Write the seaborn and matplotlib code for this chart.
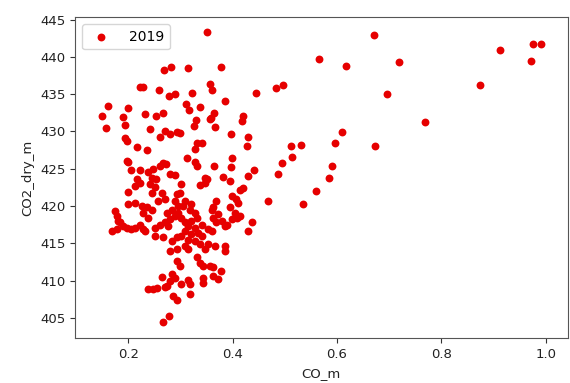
import matplotlib
matplotlib.use("Agg")
import matplotlib.pyplot as plt
import seaborn as sns
import pandas as pd

co_m = [
    0.351, 0.268, 0.281, 0.315, 0.377, 0.222, 0.228, 0.258, 0.278, 0.289,
    0.357, 0.360, 0.323, 0.385, 0.445, 0.161, 0.200, 0.149, 0.190, 0.194,
    0.233, 0.253, 0.267, 0.311, 0.317, 0.337, 0.329, 0.326, 0.364, 0.359,
    0.356, 0.419, 0.417, 0.157, 0.242, 0.261, 0.270, 0.280, 0.293, 0.299,
    0.366, 0.396, 0.430, 0.194, 0.197, 0.217, 0.236, 0.331, 0.341, 0.328,
    0.427, 0.312, 0.197, 0.200, 0.267, 0.273, 0.261, 0.328, 0.331, 0.365,
    0.399, 0.396, 0.430, 0.440, 0.206, 0.222, 0.238, 0.248, 0.280, 0.289,
    0.348, 0.382,
    0.670, 0.565, 0.618, 0.719, 0.483, 0.497, 0.695, 0.768, 0.610, 0.596,
    0.672, 0.512, 0.531, 0.514, 0.494, 0.591, 0.486, 0.585, 0.560, 0.420,
    0.414, 0.467, 0.534, 0.414, 0.438, 0.430, 0.913, 0.976, 0.990, 0.971,
    0.873,
    0.216, 0.222, 0.213, 0.200, 0.245, 0.254, 0.242, 0.251, 0.245, 0.264,
    0.270, 0.257, 0.293, 0.289, 0.296, 0.175, 0.178, 0.181, 0.184, 0.168,
    0.178, 0.190, 0.197, 0.206, 0.213, 0.200, 0.213, 0.226, 0.235, 0.245,
    0.229, 0.238, 0.222, 0.229, 0.232, 0.251, 0.261, 0.270, 0.277, 0.251,
    0.267, 0.283, 0.293, 0.274, 0.283, 0.289, 0.280,
    0.302, 0.337, 0.347, 0.350, 0.395, 0.299, 0.369, 0.363, 0.360, 0.398,
    0.407, 0.410, 0.395, 0.405, 0.408, 0.398, 0.389, 0.372, 0.379, 0.385,
    0.369, 0.363, 0.341, 0.353, 0.360,
    0.309, 0.321, 0.305, 0.318, 0.328, 0.331, 0.321, 0.309, 0.302, 0.296,
    0.315, 0.328, 0.334, 0.321, 0.309, 0.341, 0.328, 0.315, 0.302, 0.337,
    0.353, 0.366, 0.385, 0.347,
    0.280, 0.293, 0.293, 0.264, 0.283, 0.280, 0.274, 0.270, 0.238, 0.248,
    0.256, 0.286, 0.293, 0.267, 0.278,
    0.308, 0.315, 0.385, 0.331, 0.337, 0.344, 0.356, 0.363, 0.378, 0.289,
    0.302, 0.315, 0.318, 0.344, 0.344, 0.363, 0.372, 0.318, 0.299,
]

co2_dry_m = [
    443.3, 438.2, 438.7, 438.5, 438.6, 436.0, 436.0, 435.5, 434.8, 435.0,
    436.3, 435.5, 435.2, 434.1, 435.2, 433.4, 433.1, 432.1, 431.9, 430.9,
    432.3, 432.1, 432.5, 433.7, 432.9, 433.3, 431.5, 430.7, 432.5, 431.8,
    431.6, 432.1, 431.4, 430.4, 430.3, 429.3, 430.1, 429.7, 429.9, 429.8,
    430.6, 429.7, 429.3, 429.1, 428.7, 427.9, 427.5, 428.5, 428.5, 427.6,
    428.0, 426.4, 426.0, 425.9, 425.8, 425.6, 425.3, 425.9, 425.3, 425.3,
    426.4, 425.2, 424.0, 424.8, 424.8, 424.8, 424.5, 424.9, 424.3, 424.2,
    423.7, 423.9,
    442.9, 439.7, 438.8, 439.3, 435.8, 436.2, 435.0, 431.3, 429.9, 428.5,
    428.1, 428.0, 428.2, 426.6, 425.7, 425.4, 424.3, 423.8, 422.0, 422.4,
    422.2, 420.7, 420.3, 418.7, 417.8, 416.7, 440.9, 441.7, 441.7, 439.4,
    436.2,
    423.6, 423.1, 422.7, 421.9, 423.8, 423.6, 422.9, 422.5, 421.8, 421.8,
    420.9, 420.7, 421.6, 420.7, 420.0, 419.3, 418.6, 418.0, 417.8, 416.6,
    416.9, 417.3, 417.1, 416.9, 417.1, 420.2, 420.4, 420.0, 419.8, 419.5,
    419.1, 418.4, 417.5, 416.9, 416.6, 417.1, 417.5, 417.8, 417.3, 416.0,
    415.8, 415.3, 415.8, 419.1, 419.5, 418.7, 418.2,
    423.0, 422.8, 423.1, 423.6, 423.4, 421.8, 420.6, 419.8, 419.5, 421.3,
    420.9, 420.4, 419.8, 419.1, 418.4, 418.2, 417.5, 418.9, 418.0, 417.3,
    417.8, 418.4, 417.5, 416.9, 416.6,
    420.7, 420.2, 420.0, 419.5, 419.1, 418.4, 418.0, 417.8, 418.4, 419.1,
    417.3, 417.1, 416.4, 416.2, 416.6, 416.0, 415.3, 415.5, 416.0, 414.9,
    414.9, 414.6, 414.6, 414.2,
    413.9, 414.2, 412.6, 410.5, 410.9, 410.0, 409.3, 409.1, 408.8, 408.9,
    409.0, 407.9, 407.4, 404.4, 405.2,
    414.6, 414.2, 414.0, 413.1, 412.4, 412.0, 412.0, 411.8, 411.3, 410.4,
    409.5, 410.1, 409.6, 410.4, 409.7, 410.6, 410.2, 408.2, 412.0,
]

series_label = "2019"
x_ticks = [0.2, 0.4, 0.6, 0.8, 1.0]
y_ticks = [405, 410, 415, 420, 425, 430, 435, 440, 445]

df = pd.DataFrame({"CO_m": co_m, "CO2_dry_m": co2_dry_m})

fig = plt.figure(figsize=(5.7, 3.83), dpi=100)
ax = fig.add_axes([0.1316, 0.1167, 0.8644, 0.8381])

sns.scatterplot(data=df, x="CO_m", y="CO2_dry_m", color="#e60000",
                s=32, linewidth=0, label=series_label, ax=ax)

ax.set_xlim(0.098, 1.042)
ax.set_ylim(402.25, 445.3)
ax.set_xticks(x_ticks)
ax.set_yticks(y_ticks)
ax.tick_params(labelsize=9.5, colors="#333333", labelcolor="#222222")
for sp in ax.spines.values():
    sp.set_color("#555555")
ax.set_xlabel("CO_m", fontsize=9.5, color="#222222")
ax.set_ylabel("CO2_dry_m", fontsize=9.5, color="#222222")
ax.legend(loc="upper left", fontsize=10, markerscale=1.0, handletextpad=1.0)

fig.savefig("out.png", dpi=100)
